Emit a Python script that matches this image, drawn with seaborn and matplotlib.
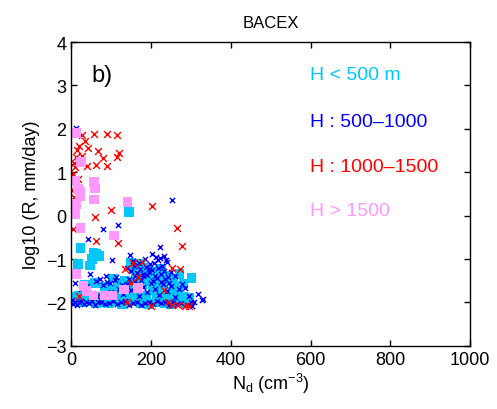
import pandas as pd
import matplotlib
matplotlib.use("Agg")
import matplotlib.pyplot as plt
import seaborn as sns

sns.set_style("ticks")
plt.rcParams['font.family'] = ['Liberation Sans', 'DejaVu Sans']
plt.rcParams['text.color'] = 'black'
plt.rcParams['axes.labelcolor'] = 'black'
plt.rcParams['xtick.color'] = 'black'
plt.rcParams['ytick.color'] = 'black'
plt.rcParams['axes.edgecolor'] = 'black'

# ---- dane (N_d, log10 R) ----
# H < 500 m (kwadraty, cyjan)
cyan_x = [145, 24, 56, 64, 71, 52, 18, 47, 302, 272, 150, 165, 180, 158, 172, 190,
          210, 225, 240, 255, 198, 232, 262, 282,
          12, 30, 45, 62, 78, 95, 112, 128, 140, 160, 175, 195, 215, 235, 250, 270, 288,
          8, 20, 38, 55, 72, 90, 108, 122, 148, 168, 188, 205, 222, 245, 265, 280, 295,
          35, 60, 85, 100, 118, 135, 205, 240, 258,
          105, 125, 145, 162, 178, 200, 218, 230, 252, 268, 150, 185, 215, 120, 95]
cyan_y = [0.09, -0.75, -0.86, -0.88, -0.93, -1.00, -1.11, -1.15, -1.44, -1.34, -1.08, -1.15, -1.20, -1.22, -1.10, -1.25,
          -1.30, -1.22, -1.38, -1.45, -1.50, -1.55, -1.62, -1.58,
          -1.97, -2.00, -1.98, -2.02, -1.99, -2.01, -1.98, -2.03, -2.00, -1.97, -2.02, -2.04, -1.99, -2.01, -2.03, -1.98, -2.02,
          -1.88, -1.85, -1.80, -1.90, -1.86, -1.92, -1.83, -1.88, -1.78, -1.90, -1.85, -1.72, -1.88, -1.82, -1.92, -1.87, -1.90,
          -1.60, -1.55, -1.65, -1.70, -1.62, -1.50, -1.68, -1.75, -1.70,
          -1.45, -1.55, -1.62, -1.40, -1.58, -1.35, -1.48, -1.65, -1.80, -1.72, -1.90, -1.95, -1.92, -1.92, -1.80]

# H : 500-1000 (krzyzyki, niebieskie)
blue_x = [12, 252, 118, 81, 42, 148, 202, 222, 102, 239, 331, 318, 328, 309, 302,
          2, 6, 10, 15, 20, 26, 32, 38, 45, 52, 60, 68, 75, 85, 95, 105, 115, 125, 135, 145,
          155, 165, 175, 185, 195, 205, 215, 225, 235, 245, 255, 265, 275, 290, 300,
          10, 25, 40, 55, 65, 80, 90, 100, 110, 120, 130, 140, 150, 160, 170, 180, 190, 200,
          210, 220, 230, 240, 250, 260, 270, 285, 295,
          140, 150, 158, 165, 172, 180, 188, 195, 202, 210, 218, 226, 234, 242, 250,
          145, 160, 175, 190, 205, 215, 225, 235, 245, 260, 278,
          155, 170, 185, 198, 208, 218, 228, 212, 222, 232, 240, 195, 180,
          72, 88, 98, 112, 128, 62, 48, 30]
blue_y = [2.02, 0.36, -0.22, -0.30, -0.54, -0.90, -0.88, -0.73, -1.03, -1.03, -1.93, -1.80, -1.95, -2.00, -2.09,
          -1.95, -2.03, -1.98, -2.05, -2.00, -1.96, -2.04, -1.99, -2.02, -1.97, -2.06, -2.00, -1.98, -2.03, -2.01, -1.96, -2.04, -2.00, -1.97, -2.05,
          -2.01, -1.98, -2.06, -2.02, -1.99, -2.04, -1.97, -2.02, -2.00, -2.07, -1.98, -2.03, -2.01, -2.05, -1.99,
          -1.55, -1.70, -1.62, -1.78, -1.85, -1.60, -1.52, -1.75, -1.48, -1.68, -1.80, -1.58, -1.72, -1.50, -1.86, -1.64, -1.76, -1.55,
          -1.68, -1.82, -1.58, -1.74, -1.62, -1.88, -1.70, -1.66, -1.84,
          -1.20, -1.28, -1.15, -1.32, -1.22, -1.38, -1.18, -1.30, -1.25, -1.40, -1.20, -1.35, -1.28, -1.42, -1.30,
          -1.45, -1.40, -1.48, -1.36, -1.50, -1.44, -1.52, -1.46, -1.55, -1.40, -1.58,
          -1.05, -1.10, -1.00, -1.12, -1.08, -1.02, -1.15, -0.95, -0.98, -0.92, -1.06, -1.24, -1.34,
          -1.45, -1.38, -1.55, -1.42, -1.60, -1.50, -1.35, -1.65]

# H : 1000-1500 (krzyzyki, czerwone)
red_x = [27, 57, 89, 114, 35, 21, 43, 68, 121, 12, 27, 81, 62, 89, 39, 10, 114, 18, 7,
         15, 8, 5, 60, 100, 204, 266, 62, 118, 279, 156, 178, 135, 253, 272, 167, 150,
         233, 20, 139, 200, 243, 252, 268, 285, 295, 5, 4]
red_y = [1.86, 1.87, 1.89, 1.86, 1.73, 1.61, 1.57, 1.50, 1.44, 1.34, 1.38, 1.32, 1.17, 1.14, 1.14, 1.12, 1.34, 0.85, 0.42,
         1.52, 1.22, 0.60, -0.04, 0.12, 0.22, -0.28, -0.58, -0.63, -0.70, -1.09, -1.07, -1.23, -1.21, -1.23, -1.42, -1.55,
         -1.71, -1.86, -2.00, -2.09, -2.00, -2.05, -2.07, -2.09, -2.09, 0.95, -0.30]

# H > 1500 (kwadraty, rozowe)
pink_x = [14, 25, 10, 57, 60, 18, 24, 57, 14, 141, 10, 24, 108, 14, 31, 39, 56, 85, 104, 133, 168, 22]
pink_y = [1.90, 1.23, 0.81, 0.77, 0.63, 0.62, 0.54, 0.37, 0.27, 0.31, 0.04, -0.28, -0.46, -1.34, -1.62, -1.73, -1.84, -1.84, -1.84, -1.70, -1.67, 0.45]

kolory = {'cyan': '#00c8ff', 'blue': '#0000ff', 'red': '#ff0000', 'pink': '#ff99ff'}

df_cyan = pd.DataFrame({'Nd': cyan_x, 'logR': cyan_y})
df_blue = pd.DataFrame({'Nd': blue_x, 'logR': blue_y})
df_red = pd.DataFrame({'Nd': red_x, 'logR': red_y})
df_pink = pd.DataFrame({'Nd': pink_x, 'logR': pink_y})

fig, ax = plt.subplots(figsize=(4.97, 4.10), dpi=100)
fig.subplots_adjust(left=0.143, right=0.946, top=0.895, bottom=0.154)

sns.scatterplot(data=df_cyan, x='Nd', y='logR', ax=ax, marker='s', s=48,
                color=kolory['cyan'], edgecolor='none', linewidth=0)
sns.scatterplot(data=df_blue, x='Nd', y='logR', ax=ax, marker='x', s=14,
                color=kolory['blue'], linewidth=1.0)
sns.scatterplot(data=df_red, x='Nd', y='logR', ax=ax, marker='x', s=24,
                color=kolory['red'], linewidth=1.0)
sns.scatterplot(data=df_pink, x='Nd', y='logR', ax=ax, marker='s', s=48,
                color=kolory['pink'], edgecolor='none', linewidth=0)

ax.set_xlim(0, 1000)
ax.set_ylim(-3, 4)
ax.set_xticks([0, 200, 400, 600, 800, 1000])
ax.set_yticks([-3, -2, -1, 0, 1, 2, 3, 4])
ax.tick_params(direction='in', top=True, right=True, labelsize=13, length=4, width=1)
for s in ax.spines.values():
    s.set_linewidth(1.0)

ax.set_title("BACEX", fontsize=12, pad=11)
ax.set_xlabel("N$_\\mathregular{d}$ (cm$^{\\mathregular{-3}}$)", fontsize=13, labelpad=2)
ax.set_ylabel("log10 (R, mm/day)", fontsize=13, labelpad=4)

ax.text(50, 3.25, "b)", fontsize=17, va='center', ha='left')
ax.text(598, 3.26, "H < 500 m", color=kolory['cyan'], fontsize=14, va='center')
ax.text(598, 2.16, "H : 500\u20131000", color=kolory['blue'], fontsize=14, va='center')
ax.text(598, 1.14, "H : 1000\u20131500", color=kolory['red'], fontsize=14, va='center')
ax.text(598, 0.13, "H > 1500", color=kolory['pink'], fontsize=14, va='center')

plt.savefig("out.png", dpi=100)
